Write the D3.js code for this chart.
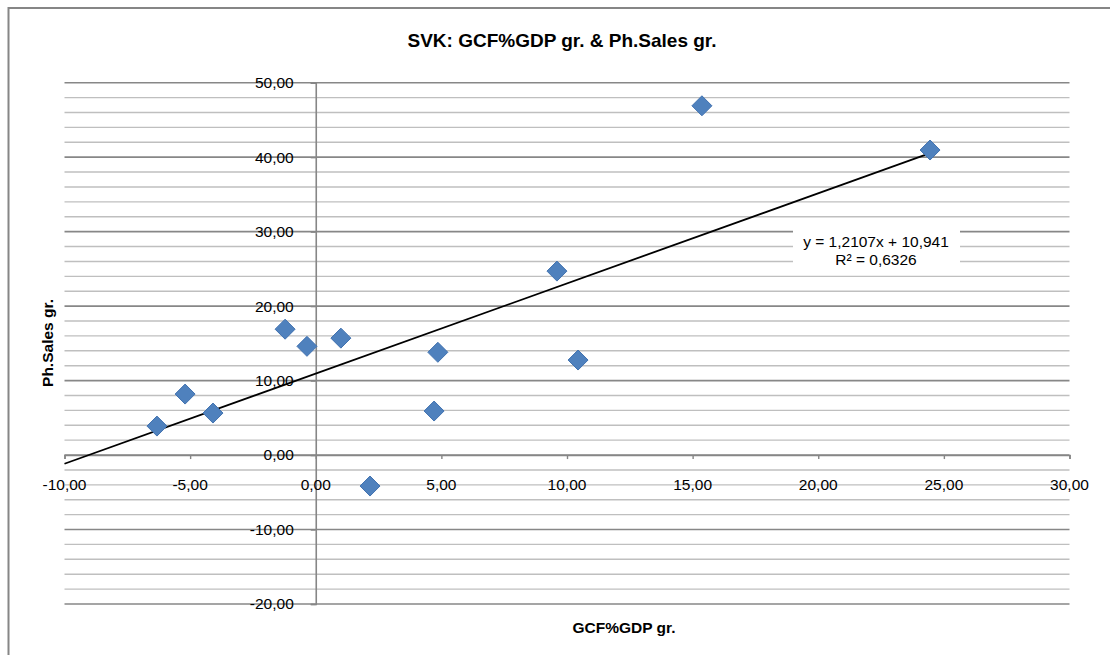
<!DOCTYPE html>
<html>
<head>
<meta charset="utf-8">
<script src="https://cdn.jsdelivr.net/npm/d3@7"></script>
<style>
  html, body { margin: 0; padding: 0; background: #fff; }
  svg { display: block; font-family: "Liberation Sans", Arial, sans-serif; }
</style>
</head>
<body>
<svg id="chart" width="1110" height="655"></svg>
<script>
// ---- data ----
const gcfGrowth   = [-6.32, -5.20, -4.09, -1.22, -0.35, 1.00, 2.16, 4.71, 4.86, 9.60, 10.44, 15.37, 24.45];
const salesGrowth = [ 3.89,  8.19,  5.64, 16.90, 14.60, 15.70, -4.16, 5.91, 13.80, 24.70, 12.76, 46.90, 40.96];
const xTicks = [-10, -5, 0, 5, 10, 15, 20, 25, 30];
const yTicks = [-20, -10, 0, 10, 20, 30, 40, 50];
const yMinorTicks = d3.range(-20, 50.001, 2);
const trendSlope = 1.2107;
const trendIntercept = 10.941;
const trendEquation = "y = 1,2107x + 10,941";
const trendR2 = "R² = 0,6326";
const chartTitle = "SVK: GCF%GDP gr. & Ph.Sales gr.";
const xTitle = "GCF%GDP gr.";
const yTitle = "Ph.Sales gr.";

// ---- layout ----
const svg = d3.select("#chart");
const fmt = v => d3.format(".2f")(v).replace(".", ",").replace("−", "-");

const x = d3.scaleLinear().domain([-10, 30]).range([64.5, 1069.5]);
const y = d3.scaleLinear().domain([-20, 50]).range([604, 82.7]);

// outer border
svg.append("rect")
  .attr("x", 8.5).attr("y", 8).attr("width", 1110).attr("height", 660)
  .attr("fill", "#fff").attr("stroke", "#868686").attr("stroke-width", 2);

// minor gridlines
svg.append("g").selectAll("line")
  .data(yMinorTicks.filter(v => Math.abs(v % 10) > 1e-6))
  .join("line")
  .attr("x1", x(-10)).attr("x2", x(30))
  .attr("y1", d => y(d)).attr("y2", d => y(d))
  .attr("stroke", "#bfbfbf").attr("stroke-width", 1.4);

// major gridlines
svg.append("g").selectAll("line")
  .data(yTicks)
  .join("line")
  .attr("x1", x(-10)).attr("x2", x(30))
  .attr("y1", d => y(d)).attr("y2", d => y(d))
  .attr("stroke", "#878787").attr("stroke-width", 1.6);

// x axis (at y=0)
const xAxis = d3.axisBottom(x).tickValues(xTicks).tickSize(4).tickFormat(() => "");
const gx = svg.append("g").attr("transform", `translate(0,${y(0)})`).call(xAxis);
gx.select(".domain").attr("stroke", "#868686").attr("stroke-width", 1.6);
gx.selectAll(".tick line").attr("stroke", "#868686").attr("stroke-width", 1.4);

// y axis (at x=0)
const yAxis = d3.axisLeft(y).tickValues(yTicks).tickSize(5).tickFormat(() => "");
const gy = svg.append("g").attr("transform", `translate(${x(0)},0)`).call(yAxis);
gy.select(".domain").attr("stroke", "#868686").attr("stroke-width", 1.6);
gy.selectAll(".tick line").attr("stroke", "#868686").attr("stroke-width", 1.4);

// tick labels
svg.append("g").selectAll("text")
  .data(xTicks).join("text")
  .attr("x", d => x(d)).attr("y", y(0) + 35)
  .attr("text-anchor", "middle")
  .attr("font-size", 15.5).attr("fill", "#000")
  .text(d => fmt(d));

svg.append("g").selectAll("text")
  .data(yTicks).join("text")
  .attr("x", x(0) - 22).attr("y", d => y(d)).attr("dy", "0.35em")
  .attr("text-anchor", "end")
  .attr("font-size", 15.5).attr("fill", "#000")
  .text(d => fmt(d));

// trendline
const tx0 = -10, tx1 = d3.max(gcfGrowth);
svg.append("line")
  .attr("x1", x(tx0)).attr("y1", y(trendSlope * tx0 + trendIntercept))
  .attr("x2", x(tx1)).attr("y2", y(trendSlope * tx1 + trendIntercept))
  .attr("stroke", "#000").attr("stroke-width", 1.8);

// equation label
svg.append("rect")
  .attr("x", 793).attr("y", 222).attr("width", 167).attr("height", 48)
  .attr("fill", "#fff");
svg.append("text")
  .attr("x", 876).attr("y", 241.5).attr("dy", "0.35em")
  .attr("text-anchor", "middle").attr("font-size", 15.5)
  .text(trendEquation);
svg.append("text")
  .attr("x", 876).attr("y", 260).attr("dy", "0.35em")
  .attr("text-anchor", "middle").attr("font-size", 15.5)
  .text(trendR2);

// markers
const pts = gcfGrowth.map((v, i) => [v, salesGrowth[i]]);
const r = 10;
svg.append("g").selectAll("path")
  .data(pts).join("path")
  .attr("d", d => {
    const cx = x(d[0]), cy = y(d[1]);
    return `M${cx},${cy - r}L${cx + r},${cy}L${cx},${cy + r}L${cx - r},${cy}Z`;
  })
  .attr("fill", "#4f81bd").attr("stroke", "#4172b0").attr("stroke-width", 1);

// titles
svg.append("text")
  .attr("x", 562).attr("y", 40).attr("dy", "0.35em")
  .attr("text-anchor", "middle").attr("font-size", 19).attr("font-weight", "bold")
  .text(chartTitle);

svg.append("text")
  .attr("x", 624).attr("y", 628).attr("dy", "0.35em")
  .attr("text-anchor", "middle").attr("font-size", 15.5).attr("font-weight", "bold")
  .text(xTitle);

svg.append("text")
  .attr("transform", `translate(48,343) rotate(-90)`)
  .attr("dy", "0.35em")
  .attr("text-anchor", "middle").attr("font-size", 15.5).attr("font-weight", "bold")
  .text(yTitle);
</script>
</body>
</html>
